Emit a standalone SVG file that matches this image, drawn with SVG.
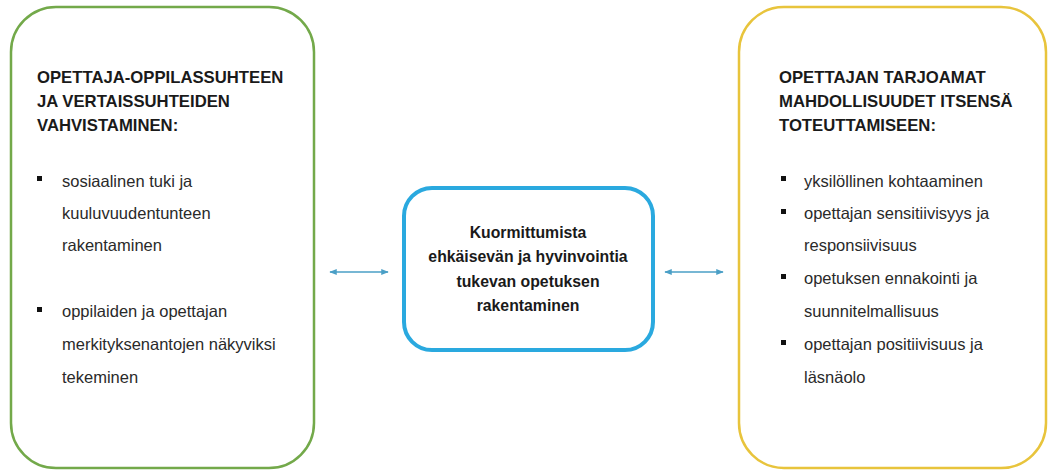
<svg xmlns="http://www.w3.org/2000/svg" width="1049" height="475" viewBox="0 0 1049 475">
<style>
.title{font-family:"Liberation Sans",Arial,sans-serif;font-weight:bold;font-size:16.7px;fill:#1a1a1a}
.body{font-family:"Liberation Sans",Arial,sans-serif;font-size:16.5px;fill:#2a2a2a}
.ctext{font-family:"Liberation Sans",Arial,sans-serif;font-weight:bold;font-size:15.8px;fill:#1a1a1a;text-anchor:middle}
.bul{fill:#111}
.conn{stroke:#4a9fc6;stroke-width:1.5;fill:none;marker-start:url(#ah);marker-end:url(#ah)}
</style>
<defs>
<marker id="ah" viewBox="0 0 10 10" refX="9" refY="5" markerWidth="5" markerHeight="5" orient="auto-start-reverse" markerUnits="strokeWidth">
<path d="M0,1 L10,5 L0,9 Z" fill="#4a9fc6"/>
</marker>
</defs>
<rect width="1049" height="475" fill="#ffffff"/>
<g id="node-left">
<rect x="11" y="7" width="303" height="461" rx="45" ry="45" fill="#fff" stroke="#73a94a" stroke-width="2.5"/>
<text class="title" x="37" y="83">OPETTAJA-OPPILASSUHTEEN</text>
<text class="title" x="37" y="107">JA VERTAISSUHTEIDEN</text>
<text class="title" x="37" y="131">VAHVISTAMINEN:</text>
<rect class="bul" x="37" y="176" width="5" height="5"/>
<text class="body" x="62" y="187">sosiaalinen tuki ja</text>
<text class="body" x="62" y="219">kuuluvuudentunteen</text>
<text class="body" x="62" y="251">rakentaminen</text>
<rect class="bul" x="37" y="307" width="5" height="5"/>
<text class="body" x="62" y="317">oppilaiden ja opettajan</text>
<text class="body" x="62" y="350">merkityksenantojen näkyviksi</text>
<text class="body" x="62" y="383">tekeminen</text>
</g>
<g id="node-center">
<rect x="404" y="188" width="249" height="162" rx="28" ry="28" fill="#fff" stroke="#2aa9df" stroke-width="4"/>
<text class="ctext" x="528" y="238">Kuormittumista</text>
<text class="ctext" x="528" y="262">ehkäisevän ja hyvinvointia</text>
<text class="ctext" x="528" y="287">tukevan opetuksen</text>
<text class="ctext" x="528" y="311">rakentaminen</text>
</g>
<g id="node-right">
<rect x="739" y="7" width="307" height="461" rx="45" ry="45" fill="#fff" stroke="#e8c43c" stroke-width="2.5"/>
<text class="title" x="779" y="83">OPETTAJAN TARJOAMAT</text>
<text class="title" x="779" y="107">MAHDOLLISUUDET ITSENSÄ</text>
<text class="title" x="779" y="131">TOTEUTTAMISEEN:</text>
<rect class="bul" x="781" y="176" width="5" height="5"/>
<text class="body" x="804" y="187">yksilöllinen kohtaaminen</text>
<rect class="bul" x="781" y="209" width="5" height="5"/>
<text class="body" x="804" y="219">opettajan sensitiivisyys ja</text>
<text class="body" x="804" y="251">responsiivisuus</text>
<rect class="bul" x="781" y="274" width="5" height="5"/>
<text class="body" x="804" y="284">opetuksen ennakointi ja</text>
<text class="body" x="804" y="317">suunnitelmallisuus</text>
<rect class="bul" x="781" y="340" width="5" height="5"/>
<text class="body" x="804" y="350">opettajan positiivisuus ja</text>
<text class="body" x="804" y="383">läsnäolo</text>
</g>
<g id="connectors">
<line class="conn" x1="330" y1="272" x2="388" y2="272"/>
<line class="conn" x1="665" y1="272" x2="723" y2="272"/>
</g>
</svg>
